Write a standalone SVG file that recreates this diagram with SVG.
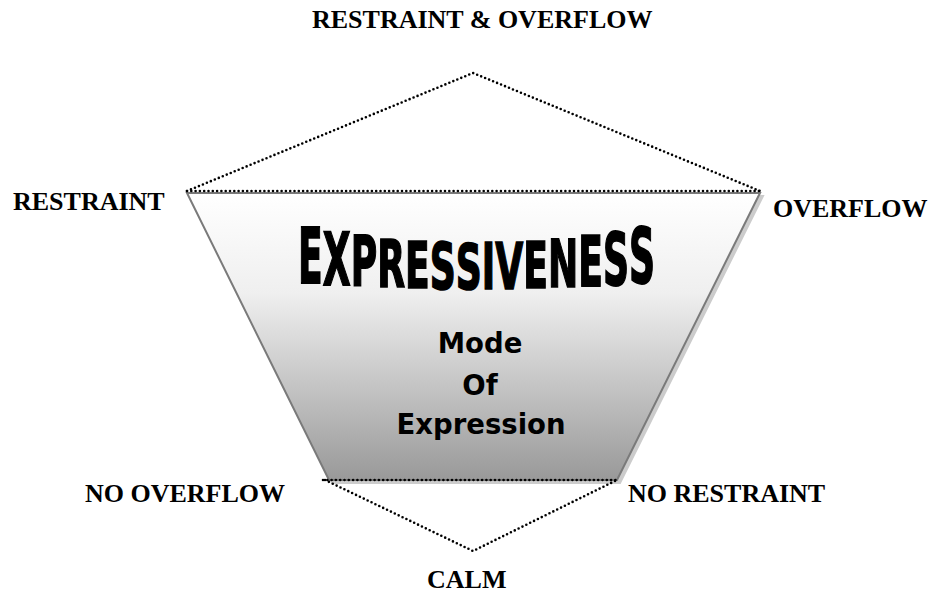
<svg xmlns="http://www.w3.org/2000/svg" width="928" height="597" viewBox="0 0 928 597">
<style>
.lbl{font-family:"Liberation Serif","Times New Roman",serif;font-weight:bold;font-size:26px;fill:#000}
.mode{font-family:"DejaVu Sans","Liberation Sans",Arial,sans-serif;font-weight:bold;font-size:27.5px;fill:#000;text-anchor:middle}
.wa{font-family:"DejaVu Sans","Liberation Sans",sans-serif;font-weight:bold;font-size:100px;fill:#000;stroke:#000;stroke-width:1.4px;vector-effect:non-scaling-stroke;text-anchor:middle}
.dot{fill:none;stroke:#000;stroke-width:2.6;stroke-linecap:round;stroke-dasharray:0 4.3}
</style>
<defs>
<linearGradient id="g" x1="0" y1="0" x2="0" y2="1">
<stop offset="0" stop-color="#ffffff"/>
<stop offset="0.35" stop-color="#efefef"/>
<stop offset="1" stop-color="#999999"/>
</linearGradient>
</defs>
<rect width="928" height="597" fill="#fff"/>
<g id="trapezoid">
<polygon points="190,196 763,196 620,483 332,483" fill="#cccccc" stroke="#cccccc" stroke-width="2"/>
<polygon points="187,193 760,193 617,480 329,480" fill="url(#g)" stroke="#7a7a7a" stroke-width="2"/>
</g>
<g id="connectors">
<polyline class="dot" points="187,191 473,73 760,191"/>
<line class="dot" x1="187" y1="191" x2="760" y2="191"/>
<polyline class="dot" points="325,480 473,551 617,480"/>
<line class="dot" x1="323" y1="480" x2="617" y2="480"/>
</g>
<g id="expressiveness">
<text class="wa" transform="translate(310.35,283.1) scale(0.3616,0.759)">E</text>
<text class="wa" transform="translate(336.7,284.8) scale(0.3616,0.722)">X</text>
<text class="wa" transform="translate(363.9,286.3) scale(0.3616,0.690)">P</text>
<text class="wa" transform="translate(391.1,287.4) scale(0.3616,0.664)">R</text>
<text class="wa" transform="translate(417.4,288.3) scale(0.3616,0.647)">E</text>
<text class="wa" transform="translate(442.75,288.8) scale(0.3616,0.636)">S</text>
<text class="wa" transform="translate(468.8,289) scale(0.3616,0.631)">S</text>
<text class="wa" transform="translate(488.5,289) scale(0.3616,0.632)">I</text>
<text class="wa" transform="translate(509.2,288.8) scale(0.3616,0.636)">V</text>
<text class="wa" transform="translate(535.6,288.2) scale(0.3616,0.648)">E</text>
<text class="wa" transform="translate(563.1,287.4) scale(0.3616,0.667)">N</text>
<text class="wa" transform="translate(590.55,286.2) scale(0.3616,0.693)">E</text>
<text class="wa" transform="translate(615.9,284.8) scale(0.3616,0.723)">S</text>
<text class="wa" transform="translate(642,283) scale(0.3616,0.759)">S</text>
</g>
<g id="mode-of-expression">
<text class="mode" x="480" y="353">Mode</text>
<text class="mode" x="480" y="395">Of</text>
<text class="mode" x="481" y="434">Expression</text>
</g>
<g id="label-restraint-overflow"><text class="lbl" x="312" y="28">RESTRAINT &amp; OVERFLOW</text></g>
<g id="label-restraint"><text class="lbl" x="13" y="210">RESTRAINT</text></g>
<g id="label-overflow"><text class="lbl" x="773" y="217">OVERFLOW</text></g>
<g id="label-no-overflow"><text class="lbl" x="85" y="502">NO OVERFLOW</text></g>
<g id="label-no-restraint"><text class="lbl" x="628" y="502">NO RESTRAINT</text></g>
<g id="label-calm"><text class="lbl" x="427" y="588">CALM</text></g>
</svg>
